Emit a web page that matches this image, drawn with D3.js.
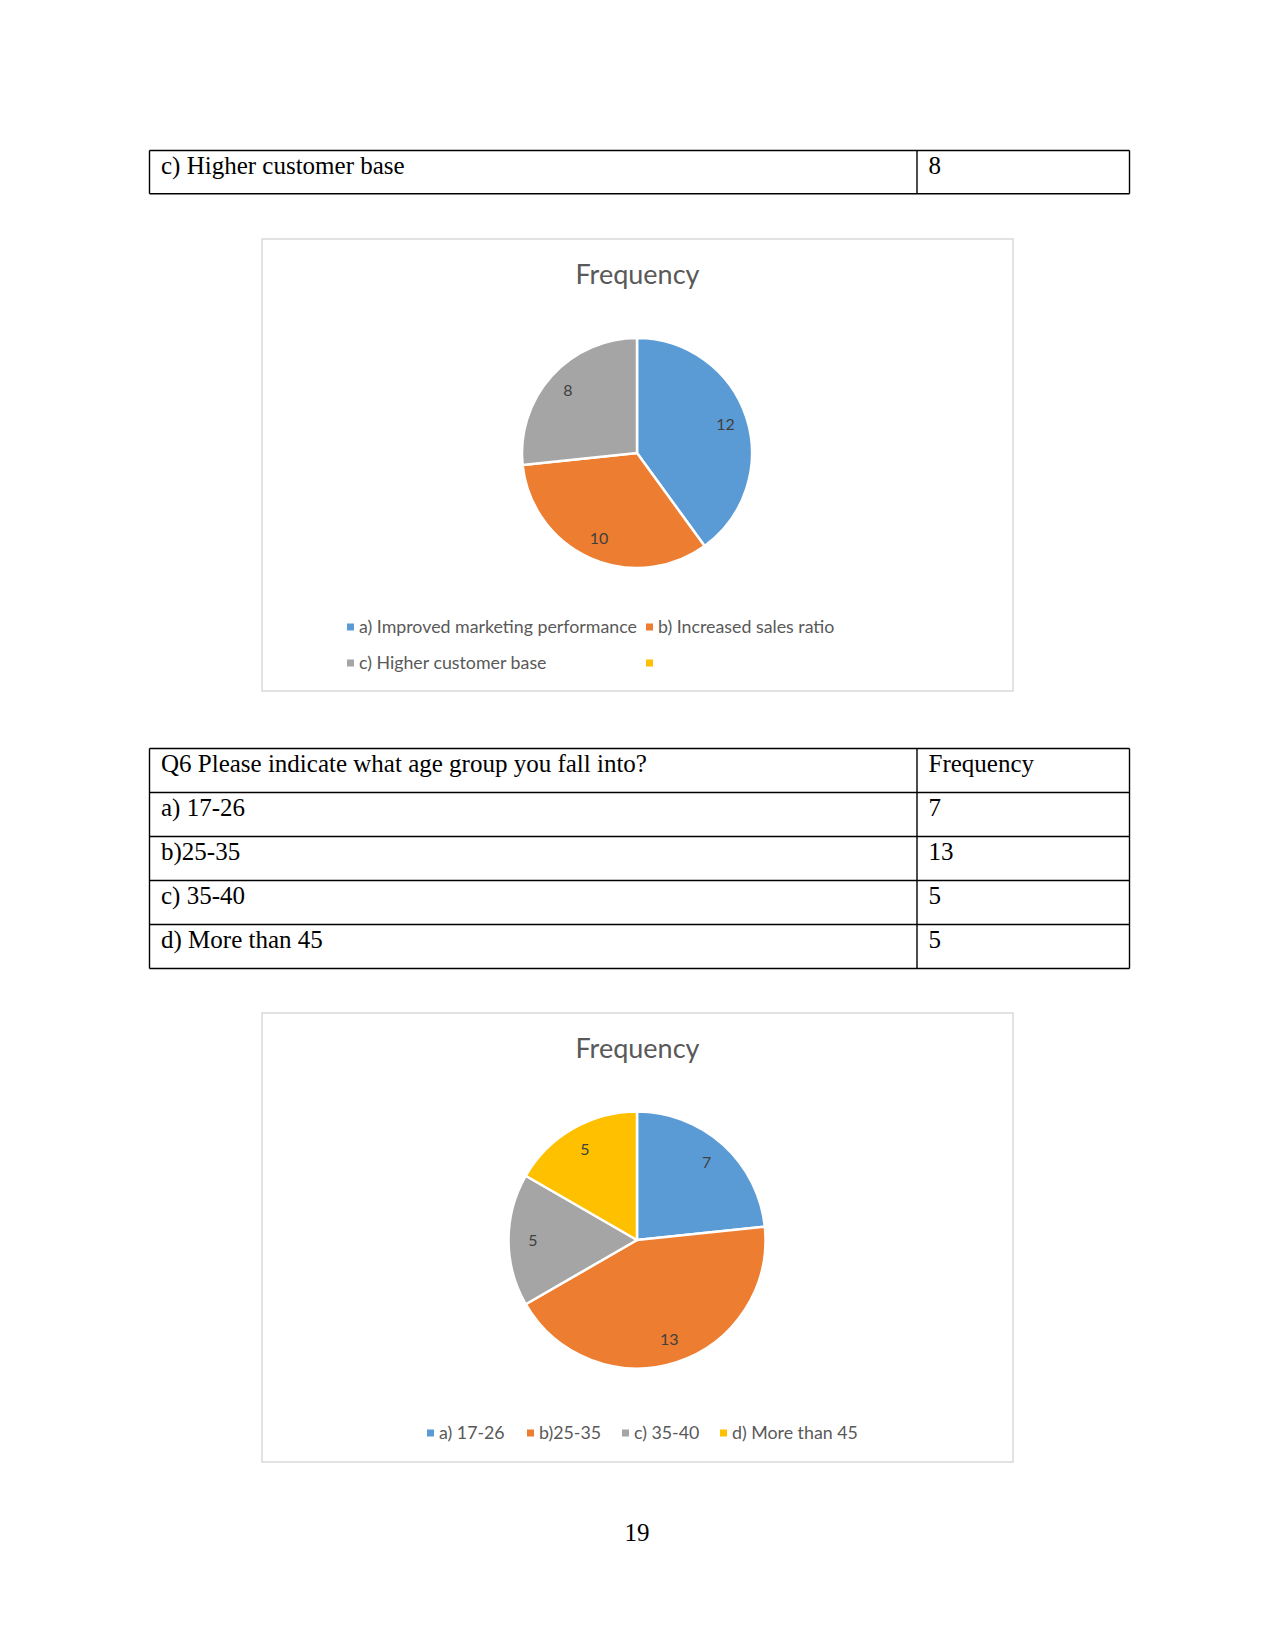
<!DOCTYPE html>
<html>
<head>
<meta charset="utf-8">
<script src="https://cdn.jsdelivr.net/npm/d3@7"></script>
<style>
  html, body { margin: 0; padding: 0; background: #fff; }
  svg text { font-kerning: normal; }
</style>
</head>
<body>
<svg id="page" width="1275" height="1651"></svg>
<script>
// ---- data ----
var table1Rows = ["c) Higher customer base"];
var table1Values = ["8"];

var chart1Categories = ["a) Improved marketing performance", "b) Increased sales ratio", "c) Higher customer base", ""];
var chart1Values = [12, 10, 8, null];

var table2Header = ["Q6 Please indicate what age group you fall into?", "Frequency"];
var table2Rows = ["a) 17-26", "b)25-35", "c) 35-40", "d) More than 45"];
var table2Values = ["7", "13", "5", "5"];

var chart2Categories = ["a) 17-26", "b)25-35", "c) 35-40", "d) More than 45"];
var chart2Values = [7, 13, 5, 5];

var seriesColors = ["#5B9BD5", "#ED7D31", "#A5A5A5", "#FFC000"];
var chartTitle = "Frequency";
var pageNumber = "19";

// ---- drawing ----
var svg = d3.select("#page");
var serif = "'Liberation Serif', 'Times New Roman', serif";
var sans = "Lato, 'Open Sans', sans-serif";

function drawTable(top, rows, values, rowH) {
  var left = 149.5, split = 917, right = 1129.5;
  var g = svg.append("g");
  var n = rows.length;
  var y = d3.scaleLinear().domain([0, n]).range([top, top + n * rowH]);

  g.selectAll("line.h").data(d3.range(n + 1)).enter().append("line")
    .attr("x1", left).attr("x2", right)
    .attr("y1", function(d) { return y(d); })
    .attr("y2", function(d) { return y(d); })
    .attr("stroke", "#000").attr("stroke-width", 1.4);

  [left, split, right].forEach(function(x) {
    g.append("line").attr("x1", x).attr("x2", x)
      .attr("y1", y(0)).attr("y2", y(n))
      .attr("stroke", "#000").attr("stroke-width", 1.4);
  });

  g.selectAll("text.c1").data(rows).enter().append("text")
    .attr("x", left + 11.5)
    .attr("y", function(d, i) { return y(i) + 23.5; })
    .attr("font-family", serif).attr("font-size", 25).attr("fill", "#000")
    .text(function(d) { return d; });

  g.selectAll("text.c2").data(values).enter().append("text")
    .attr("x", split + 11.5)
    .attr("y", function(d, i) { return y(i) + 23.5; })
    .attr("font-family", serif).attr("font-size", 25).attr("fill", "#000")
    .text(function(d) { return d; });
}

function drawPieChart(box, cats, vals, r, cx, cy, legendItems) {
  var g = svg.append("g");
  g.append("rect")
    .attr("x", box.x).attr("y", box.y).attr("width", box.w).attr("height", box.h)
    .attr("fill", "#fff").attr("stroke", "#D9D9D9").attr("stroke-width", 1.5);

  g.append("text")
    .attr("x", box.x + box.w / 2).attr("y", box.y + 45)
    .attr("text-anchor", "middle")
    .attr("font-family", sans).attr("font-size", 27).attr("fill", "#595959")
    .text(chartTitle);

  var color = d3.scaleOrdinal().domain(d3.range(cats.length)).range(seriesColors);
  var data = vals.map(function(v, i) { return { i: i, v: v || 0 }; });
  var pie = d3.pie().sort(null).value(function(d) { return d.v; });
  var arcs = pie(data).filter(function(a) { return a.data.v > 0; });
  var arc = d3.arc().innerRadius(0).outerRadius(r);
  var labelArc = d3.arc().innerRadius(r * 0.62).outerRadius(r);

  var pg = g.append("g").attr("transform", "translate(" + cx + "," + cy + ")");
  pg.selectAll("path").data(arcs).enter().append("path")
    .attr("d", arc)
    .attr("fill", function(d) { return color(d.data.i); })
    .attr("stroke", "#fff").attr("stroke-width", 2.5)
    .attr("stroke-linejoin", "round");

  pg.selectAll("text").data(arcs).enter().append("text")
    .attr("transform", function(d) { return "translate(" + labelArc.centroid(d) + ")"; })
    .attr("text-anchor", "middle").attr("dy", "0.35em")
    .attr("font-family", sans).attr("font-size", 16).attr("fill", "#404040")
    .text(function(d) { return d.data.v; });

  var lg = g.append("g");
  var items = lg.selectAll("g").data(legendItems).enter().append("g")
    .attr("transform", function(d) { return "translate(" + d.x + "," + d.y + ")"; });
  items.append("rect")
    .attr("x", 0).attr("y", -3.5).attr("width", 7).attr("height", 7)
    .attr("fill", function(d) { return color(d.i); });
  items.append("text")
    .attr("x", 12).attr("dy", "0.35em")
    .attr("font-family", sans).attr("font-size", 17.8).attr("fill", "#595959")
    .text(function(d) { return cats[d.i]; });
}

drawTable(150.5, table1Rows, table1Values, 43.2);

drawPieChart({ x: 262, y: 239, w: 751, h: 452 }, chart1Categories, chart1Values, 115, 637, 453,
  [{ i: 0, x: 347, y: 627 }, { i: 1, x: 646, y: 627 }, { i: 2, x: 347, y: 663 }, { i: 3, x: 646, y: 663 }]);

drawTable(748.5, [table2Header[0]].concat(table2Rows), [table2Header[1]].concat(table2Values), 44);

drawPieChart({ x: 262, y: 1013, w: 751, h: 449 }, chart2Categories, chart2Values, 128.5, 637, 1240,
  [{ i: 0, x: 427, y: 1433 }, { i: 1, x: 527, y: 1433 }, { i: 2, x: 622, y: 1433 }, { i: 3, x: 720, y: 1433 }]);

svg.append("text")
  .attr("x", 637).attr("y", 1541)
  .attr("text-anchor", "middle")
  .attr("font-family", serif).attr("font-size", 25).attr("fill", "#000")
  .text(pageNumber);
</script>
</body>
</html>
